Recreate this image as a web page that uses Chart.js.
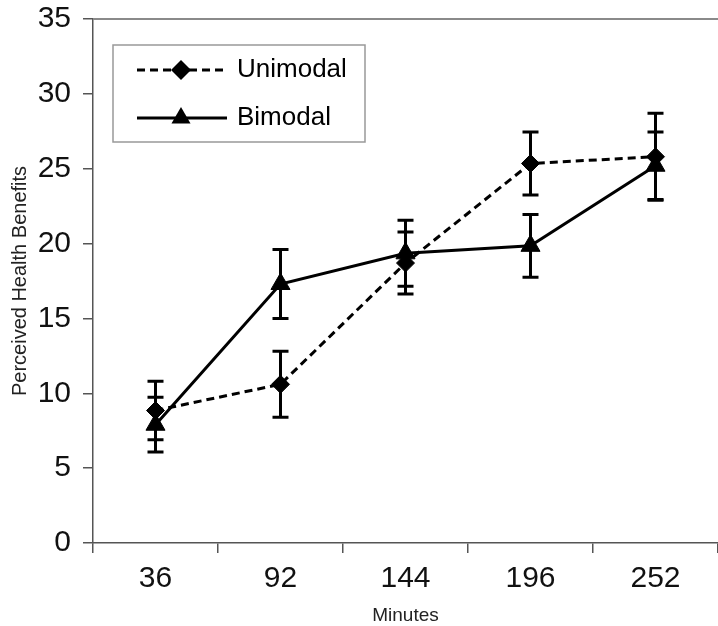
<!DOCTYPE html>
<html>
<head>
    <title>Perceived Health Benefits</title>
    <script src="https://cdn.jsdelivr.net/npm/chart.js"></script>
    <style>
        html, body { margin: 0; padding: 0; background: #fff; overflow: hidden; }
        .caixa { position: relative; width: 718px; height: 626px; }
    </style>
</head>
<body>
    <div class="caixa">
        <canvas id="chart"></canvas>
    </div>

    <script>
        // dados
        var minutos = ['36', '92', '144', '196', '252'];
        var unimodal = [8.85, 10.6, 18.7, 25.35, 25.8];
        var unimodalErro = [1.95, 2.2, 2.07, 2.1, 2.9];
        var bimodal = [7.9, 17.3, 19.35, 19.85, 25.2];
        var bimodalErro = [1.83, 2.3, 2.2, 2.1, 2.25];
        var yTicks = [0, 5, 10, 15, 20, 25, 30, 35];

        var fonte = "'Liberation Sans', Arial, sans-serif";
        // a área do gráfico passa um pouco da borda direita, como no original
        var sobraDireita = -5;

        // barras de erro desenhadas com as escalas do gráfico
        var barrasErro = {
            id: 'barrasErro',
            beforeDatasetsDraw: function(chart) {
                var ctx = chart.ctx;
                var y = chart.scales.y;
                ctx.save();
                ctx.strokeStyle = '#000';
                ctx.lineWidth = 3;
                chart.data.datasets.forEach(function(ds, i) {
                    var meta = chart.getDatasetMeta(i);
                    ds.erros.forEach(function(e, j) {
                        var px = meta.data[j].x;
                        var topo = y.getPixelForValue(ds.data[j] + e);
                        var base = y.getPixelForValue(ds.data[j] - e);
                        ctx.beginPath();
                        ctx.moveTo(px, topo);
                        ctx.lineTo(px, base);
                        ctx.moveTo(px - 8, topo);
                        ctx.lineTo(px + 8, topo);
                        ctx.moveTo(px - 8, base);
                        ctx.lineTo(px + 8, base);
                        ctx.stroke();
                    });
                });
                ctx.restore();
            }
        };

        // borda de cima e legenda dentro da área
        var moldura = {
            id: 'moldura',
            afterDraw: function(chart) {
                var ctx = chart.ctx;
                var a = chart.chartArea;
                ctx.save();
                ctx.strokeStyle = '#8a8a8a';
                ctx.lineWidth = 2;
                ctx.beginPath();
                ctx.moveTo(a.left, a.top);
                ctx.lineTo(a.right, a.top);
                ctx.stroke();

                // caixa da legenda
                var bx = a.left + 20, by = a.top + 26;
                ctx.lineWidth = 1.5;
                ctx.strokeStyle = '#999';
                ctx.strokeRect(bx, by, 252, 97);

                ctx.strokeStyle = '#000';
                ctx.fillStyle = '#000';
                ctx.lineWidth = 3;

                // Unimodal
                var y1 = by + 25;
                ctx.setLineDash([8, 5]);
                ctx.beginPath();
                ctx.moveTo(bx + 24, y1);
                ctx.lineTo(bx + 110, y1);
                ctx.stroke();
                ctx.setLineDash([]);
                var cx = bx + 68;
                ctx.beginPath();
                ctx.moveTo(cx, y1 - 10);
                ctx.lineTo(cx + 10, y1);
                ctx.lineTo(cx, y1 + 10);
                ctx.lineTo(cx - 10, y1);
                ctx.closePath();
                ctx.fill();

                // Bimodal
                var y2 = by + 73;
                ctx.beginPath();
                ctx.moveTo(bx + 24, y2);
                ctx.lineTo(bx + 114, y2);
                ctx.stroke();
                var r = 11;
                ctx.beginPath();
                ctx.moveTo(cx, y2 - r);
                ctx.lineTo(cx + r * 0.866, y2 + r * 0.5);
                ctx.lineTo(cx - r * 0.866, y2 + r * 0.5);
                ctx.closePath();
                ctx.fill();

                ctx.font = '26px ' + fonte;
                ctx.textBaseline = 'middle';
                ctx.textAlign = 'left';
                ctx.fillText('Unimodal', bx + 124, y1);
                ctx.fillText('Bimodal', bx + 124, y2);
                ctx.restore();
            }
        };

        var ctx = document.getElementById('chart').getContext('2d');
        var chart = new Chart(ctx, {
            type: 'line',
            data: {
                labels: minutos,
                datasets: [{
                    label: 'Unimodal',
                    data: unimodal,
                    erros: unimodalErro,
                    borderColor: '#000',
                    backgroundColor: '#000',
                    borderWidth: 3,
                    borderDash: [8, 5],
                    pointStyle: 'rectRot',
                    pointRadius: 9,
                    pointBorderWidth: 1,
                    tension: 0
                }, {
                    label: 'Bimodal',
                    data: bimodal,
                    erros: bimodalErro,
                    borderColor: '#000',
                    backgroundColor: '#000',
                    borderWidth: 3,
                    pointStyle: 'triangle',
                    pointRadius: 11,
                    pointBorderWidth: 1,
                    tension: 0
                }]
            },
            options: {
                responsive: true,
                maintainAspectRatio: false,
                animation: false,
                layout: {
                    autoPadding: false,
                    padding: { left: 0, right: sobraDireita, top: 19, bottom: 0 }
                },
                plugins: {
                    legend: { display: false },
                    tooltip: { enabled: false }
                },
                scales: {
                    x: {
                        offset: true,
                        afterFit: function(s) {
                            s.height = 83;
                            s.paddingLeft = 0;
                            s.paddingRight = sobraDireita;
                        },
                        grid: {
                            offset: true,
                            drawOnChartArea: false,
                            drawTicks: true,
                            tickLength: 10,
                            color: '#555',
                            lineWidth: 1.5
                        },
                        border: { display: true, color: '#555', width: 1.5 },
                        ticks: {
                            color: '#111',
                            font: { family: fonte, size: 30 },
                            padding: 8,
                            maxRotation: 0
                        },
                        title: {
                            display: true,
                            text: 'Minutes',
                            color: '#222',
                            font: { family: fonte, size: 19, lineHeight: 1.1 },
                            padding: { top: 0, bottom: 0 }
                        }
                    },
                    y: {
                        min: 0,
                        max: 35,
                        afterFit: function(s) {
                            s.width = 93;
                            s.paddingTop = 0;
                            s.paddingBottom = 0;
                            s.paddingRight = sobraDireita;
                        },
                        afterBuildTicks: function(s) {
                            s.ticks = yTicks.map(function(v) { return { value: v }; });
                        },
                        grid: {
                            drawOnChartArea: false,
                            drawTicks: true,
                            tickLength: 10,
                            color: '#555',
                            lineWidth: 1.5
                        },
                        border: { display: true, color: '#555', width: 1.5 },
                        ticks: {
                            color: '#111',
                            font: { family: fonte, size: 30 },
                            padding: 12
                        },
                        title: {
                            display: true,
                            text: 'Perceived Health Benefits',
                            color: '#222',
                            font: { family: fonte, size: 20 },
                            padding: { top: 8, bottom: 0 }
                        }
                    }
                }
            },
            plugins: [barrasErro, moldura]
        });
    </script>
</body>
</html>
